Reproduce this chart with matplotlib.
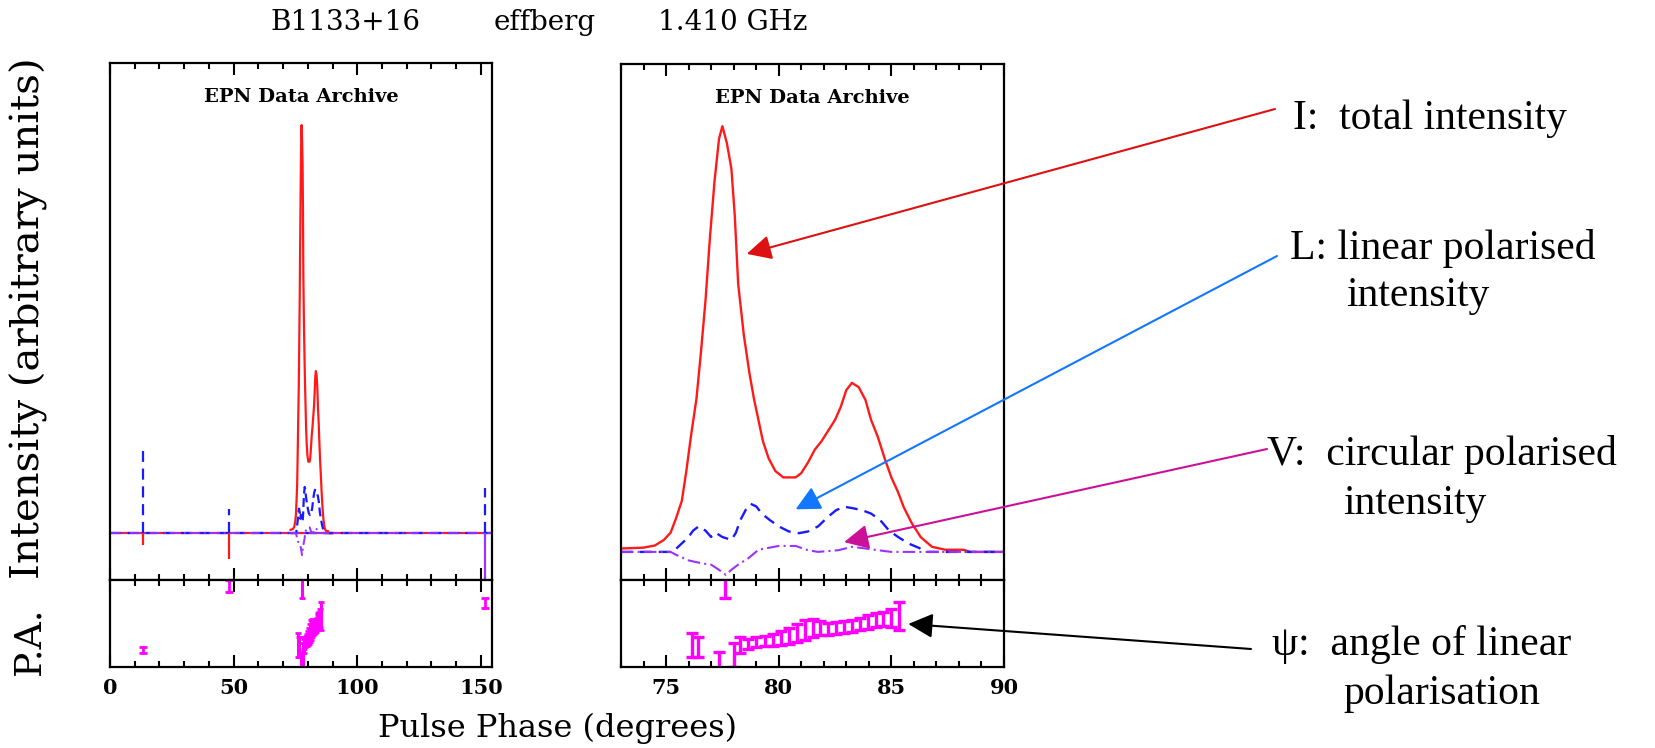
import numpy as np
import matplotlib
matplotlib.use('Agg')
import matplotlib.pyplot as plt
from matplotlib.ticker import MultipleLocator

# ---- data ----
# total intensity I (normalised to peak) across the pulse
i_phase = [73.0, 74.0, 74.5, 74.9, 75.2, 75.45, 75.7, 75.9, 76.1, 76.35, 76.55, 76.75,
           76.95, 77.15, 77.35, 77.5, 77.7, 77.9, 78.05, 78.2, 78.45, 78.7, 78.9, 79.1,
           79.3, 79.55, 79.85, 80.2, 80.75, 81.0, 81.3, 81.6, 81.9, 82.2, 82.5, 82.75,
           83.0, 83.25, 83.55, 83.85, 84.1, 84.4, 84.7, 85.0, 85.3, 85.55, 85.9, 86.3,
           86.8, 87.4, 88.2, 88.5, 90.0]
i_val = [0.008, 0.01, 0.015, 0.028, 0.045, 0.08, 0.12, 0.19, 0.27, 0.36, 0.47, 0.59,
         0.74, 0.87, 0.97, 1.0, 0.96, 0.90, 0.79, 0.63, 0.51, 0.42, 0.36, 0.31,
         0.26, 0.22, 0.19, 0.175, 0.175, 0.185, 0.21, 0.24, 0.26, 0.285, 0.31, 0.34,
         0.38, 0.397, 0.387, 0.357, 0.31, 0.27, 0.22, 0.175, 0.14, 0.105, 0.068, 0.035,
         0.012, 0.005, 0.005, 0.0, 0.0]

# linear polarised intensity L
l_phase = [73.0, 75.3, 75.7, 76.0, 76.2, 76.45, 76.75, 77.0, 77.2, 77.5, 77.9, 78.1,
           78.3, 78.55, 78.75, 79.0, 79.25, 79.6, 80.0, 80.45, 80.9, 81.3, 81.75, 82.2,
           82.55, 82.9, 83.25, 83.7, 84.1, 84.5, 84.9, 85.3, 85.75, 86.2, 86.6, 90.0]
l_val = [0.0, 0.0, 0.02, 0.035, 0.05, 0.06, 0.05, 0.035, 0.045, 0.035, 0.028, 0.045,
         0.075, 0.10, 0.113, 0.107, 0.09, 0.075, 0.06, 0.048, 0.044, 0.048, 0.06, 0.083,
         0.098, 0.106, 0.103, 0.098, 0.09, 0.075, 0.05, 0.035, 0.02, 0.01, 0.0, 0.0]

# circular polarised intensity V
v_phase = [73.0, 75.2, 75.45, 76.0, 76.6, 77.0, 77.35, 77.65, 77.9, 78.2, 78.65, 79.1,
           80.0, 80.75, 81.3, 81.75, 82.65, 83.25, 83.85, 84.4, 85.0, 90.0]
v_val = [0.0, 0.0, -0.007, -0.02, -0.027, -0.03, -0.042, -0.054, -0.042, -0.03, -0.015,
         0.005, 0.014, 0.014, 0.004, 0.0, 0.004, 0.012, 0.008, 0.004, 0.0, 0.0]

# position angle (deg) with errors
pa_phase = [76.15, 76.4, 77.35, 77.6, 78.0, 78.3, 78.65, 79.0, 79.4, 79.75, 80.1, 80.45,
            80.8, 81.15, 81.5, 81.85, 82.2, 82.55, 82.9, 83.25, 83.6, 83.95, 84.3, 84.65,
            85.0, 85.35]
pa_val = [-44, -49, -75, 73, -65, -44, -42, -38, -36, -34, -30, -26,
          -20, -13, -9, -9, -11, -9, -7, -5, -1, 3, 7, 9, 11, 15]
pa_err = [25, 21, 17, 21, 25, 17, 10, 10, 10, 12, 14, 17,
          19, 21, 19, 14, 12, 12, 12, 12, 12, 14, 14, 14, 19, 29]

# off-pulse spikes seen in the full-period view
spike_phase = [13.5, 48.0, 151.6]
spike_i = [-0.03, -0.064, 0.0]
spike_l = [0.20, 0.06, 0.11]
spike_v = [0.0, 0.0, -0.115]
spike_pa = [-55, 78, 42]
spike_pa_err = [6, 12, 10]

title_words = ['B1133+16', 'effberg', '1.410 GHz']

red = '#ff1a1a'
blue = '#1a1aff'
purple = '#9933ff'
mag = '#ff00ff'
pix = 'DejaVu Serif'
serif = 'Liberation Serif'

W, H = 1655, 748
fig = plt.figure(figsize=(W / 100, H / 100), dpi=100)


def px_axes(x0, y0, x1, y1):
    return fig.add_axes([x0 / W, 1 - y1 / H, (x1 - x0) / W, (y1 - y0) / H])


def style(ax, major, minor, labels=False):
    for s in ax.spines.values():
        s.set_linewidth(1.6)
    ax.set_yticks([])
    ax.xaxis.set_major_locator(MultipleLocator(major))
    ax.xaxis.set_minor_locator(MultipleLocator(minor))
    ax.tick_params(axis='x', which='both', direction='in', top=True, bottom=True,
                   labelbottom=labels, width=1.5)
    ax.tick_params(axis='x', which='major', length=8.5, pad=8)
    ax.tick_params(axis='x', which='minor', length=4.5)
    if labels:
        for t in ax.get_xticklabels():
            t.set_fontfamily(pix)
            t.set_fontweight('bold')
            t.set_fontsize(15)


axL_I = px_axes(110, 63, 492, 580)
axL_P = px_axes(110, 580, 492, 667)
axR_I = px_axes(621, 64, 1004, 580)
axR_P = px_axes(621, 580, 1004, 667)

# ---- left panel: full period ----
axL_I.axhline(0, color=red, lw=1.6)
axL_I.axhline(0, color=blue, lw=1.6, dashes=(5, 3))
axL_I.axhline(0, color=purple, lw=1.3, dashes=(6, 2, 1, 2))
axL_I.plot(i_phase, i_val, color=red, lw=1.6)
axL_I.plot(l_phase, l_val, color=blue, lw=1.6, dashes=(4, 2))
axL_I.plot(v_phase, v_val, color=purple, lw=1.4, dashes=(5, 2, 1, 2))
axL_I.vlines(spike_phase, 0, spike_i, color=red, lw=1.6)
axL_I.vlines(spike_phase, 0, spike_l, color=blue, lw=1.6, linestyles=(0, (5, 3)))
axL_I.vlines(spike_phase, 0, spike_v, color=purple, lw=1.6)
axL_I.set_xlim(0, 154.5)
axL_I.set_ylim(-0.115, 1.152)
style(axL_I, 50, 10)

axL_P.errorbar(pa_phase, pa_val, yerr=pa_err, fmt='none', ecolor=mag, elinewidth=2.2,
               capsize=2, capthick=2)
axL_P.errorbar(spike_phase, spike_pa, yerr=spike_pa_err, fmt='none', ecolor=mag,
               elinewidth=2, capsize=3, capthick=2)
axL_P.set_xlim(0, 154.5)
axL_P.set_ylim(-90, 90)
style(axL_P, 50, 10, labels=True)

# ---- right panel: zoom on the pulse ----
axR_I.plot(i_phase, i_val, color=red, lw=1.7)
axR_I.plot(l_phase, l_val, color=blue, lw=1.7, dashes=(5, 3))
axR_I.plot(v_phase, v_val, color=purple, lw=1.5, dashes=(6, 2, 1, 2))
axR_I.set_xlim(73, 90)
axR_I.set_ylim(-0.066, 1.146)
style(axR_I, 5, 1)

axR_P.errorbar(pa_phase, pa_val, yerr=pa_err, fmt='none', ecolor=mag, elinewidth=2.4,
               capsize=4, capthick=2.4)
axR_P.set_xlim(73, 90)
axR_P.set_ylim(-90, 90)
style(axR_P, 5, 1, labels=True)

for ax in (axL_I, axR_I):
    ax.text(0.5, 0.934, 'EPN Data Archive', transform=ax.transAxes, ha='center',
            va='center', family=pix, weight='bold', size=14)

# ---- figure texts ----
for x, s in zip([270, 494, 658], title_words):
    fig.text(x / W, 1 - 23 / H, s, ha='left', va='center', family=pix, size=20)
fig.text(557 / W, 1 - 728 / H, 'Pulse Phase (degrees)', ha='center', va='center',
         family=pix, size=23)
fig.text(29 / W, 1 - 318 / H, 'Intensity (arbitrary units)', ha='center', va='center',
         rotation=90, family=pix, size=29)
fig.text(29 / W, 1 - 641 / H, 'P.A.', ha='center', va='center', rotation=90,
         family=pix, size=27)

labels = [
    (1293, 119, 'I:  total intensity'),
    (1290, 248, 'L: linear polarised'),
    (1346, 296, 'intensity'),
    (1267, 455, 'V:  circular polarised'),
    (1343, 504, 'intensity'),
    (1272, 644, '\u03c8:  angle of linear'),
    (1343, 694, 'polarisation'),
]
for x, y, s in labels:
    fig.text(x / W, 1 - y / H, s, ha='left', va='center', family=serif, size=30)

arrows = [
    (axR_I, (78.58, 0.70), (1275, 109), '#dd1111'),
    (axR_I, (80.75, 0.10), (1277, 256), '#1177ff'),
    (axR_I, (82.9, 0.023), (1267, 449), '#cc1199'),
    (axR_P, (85.75, -1.0), (1251, 649), 'black'),
]
for ax, tip, start, c in arrows:
    ax.annotate('', xy=tip, xycoords='data', xytext=(start[0] / W, 1 - start[1] / H),
                textcoords='figure fraction', annotation_clip=False,
                arrowprops=dict(arrowstyle='-|>,head_length=0.6,head_width=0.3',
                                color=c, lw=1.5, mutation_scale=25,
                                shrinkA=0, shrinkB=0))

fig.savefig('out.png', dpi=100, facecolor='white')
